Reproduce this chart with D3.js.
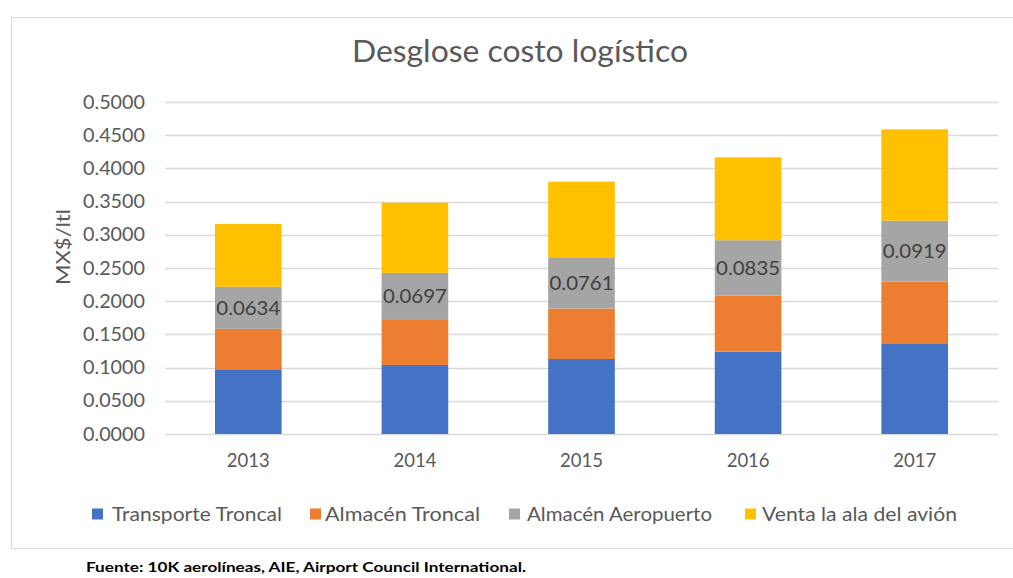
<!DOCTYPE html>
<html>
<head>
<meta charset="utf-8">
<script src="https://cdn.jsdelivr.net/npm/d3@7"></script>
<style>
  body { margin: 0; background: #fff; }
  text { font-family: Lato, "Open Sans", sans-serif; }
</style>
</head>
<body>
<div id="chart"></div>
<script>
const years = ["2013", "2014", "2015", "2016", "2017"];
const seriesNames = ["Transporte Troncal", "Almacén Troncal", "Almacén Aeropuerto", "Venta la ala del avión"];
const seriesColors = ["#4472C4", "#ED7D31", "#A5A5A5", "#FFC000"];
const transporteTroncal = [0.0964, 0.1040, 0.1130, 0.1240, 0.1366];
const almacenTroncal = [0.0620, 0.0690, 0.0760, 0.0843, 0.0928];
const almacenAeropuerto = [0.0634, 0.0697, 0.0761, 0.0835, 0.0919];
const ventaAla = [0.0946, 0.1057, 0.1149, 0.1249, 0.1375];
const yTicks = [0, 0.05, 0.1, 0.15, 0.2, 0.25, 0.3, 0.35, 0.4, 0.45, 0.5];

const width = 1013, height = 578;
const svg = d3.select("#chart").append("svg")
    .attr("width", width)
    .attr("height", height);

// marco del gráfico
svg.append("rect")
    .attr("x", 11.5).attr("y", 17.5)
    .attr("width", 1010).attr("height", 531)
    .attr("fill", "#fff")
    .attr("stroke", "#d9d9d9");

const plot = { left: 165, right: 998, top: 102, bottom: 434 };

const x = d3.scaleBand()
    .domain(years)
    .range([plot.left, plot.right])
    .paddingInner(0.6)
    .paddingOuter(0.3);

const y = d3.scaleLinear()
    .domain([0, 0.5])
    .range([plot.bottom, plot.top]);

// Título
svg.append("text")
    .attr("x", 520).attr("y", 62)
    .attr("text-anchor", "middle")
    .attr("font-size", 30)
    .attr("fill", "#595959")
    .attr("textLength", 336)
    .attr("lengthAdjust", "spacingAndGlyphs")
    .text("Desglose costo logístico");

// Rejilla
svg.append("g")
    .selectAll("line")
    .data(yTicks)
    .join("line")
    .attr("x1", plot.left).attr("x2", plot.right)
    .attr("y1", d => Math.round(y(d)) + 0.5)
    .attr("y2", d => Math.round(y(d)) + 0.5)
    .attr("stroke", "#d9d9d9")
    .attr("stroke-width", 1.3);

// Eje Y
const yAxis = svg.append("g")
    .attr("transform", `translate(${plot.left - 20},0)`)
    .call(d3.axisLeft(y).tickValues(yTicks).tickFormat(d3.format(".4f")).tickSize(0).tickPadding(0));
yAxis.select(".domain").remove();
yAxis.selectAll("text")
    .attr("font-size", 19)
    .attr("fill", "#595959")
    .attr("textLength", 62)
    .attr("lengthAdjust", "spacingAndGlyphs")
    .style("font-family", "Lato, 'Open Sans', sans-serif");

// Eje X
const xAxis = svg.append("g")
    .attr("transform", `translate(0,${plot.bottom + 20})`)
    .call(d3.axisBottom(x).tickSize(0).tickPadding(0));
xAxis.select(".domain").remove();
xAxis.selectAll("text")
    .attr("font-size", 18.5)
    .attr("fill", "#595959")
    .attr("dy", "0.71em")
    .style("font-family", "Lato, 'Open Sans', sans-serif");

// Título eje Y
svg.append("text")
    .attr("transform", "translate(70,247) rotate(-90)")
    .attr("text-anchor", "middle")
    .attr("font-size", 20)
    .attr("fill", "#595959")
    .attr("textLength", 76)
    .attr("lengthAdjust", "spacingAndGlyphs")
    .text("MX$/ltl");

// Barras apiladas
const rows = years.map((yr, i) => ({
    year: yr,
    s0: transporteTroncal[i],
    s1: almacenTroncal[i],
    s2: almacenAeropuerto[i],
    s3: ventaAla[i]
}));
const keys = ["s0", "s1", "s2", "s3"];
const stacked = d3.stack().keys(keys)(rows);

svg.append("g")
    .selectAll("g")
    .data(stacked)
    .join("g")
    .attr("fill", (d, i) => seriesColors[i])
    .selectAll("rect")
    .data(d => d)
    .join("rect")
    .attr("x", d => x(d.data.year))
    .attr("width", x.bandwidth())
    .attr("y", d => y(d[1]))
    .attr("height", d => y(d[0]) - y(d[1]));

// Etiquetas del almacén aeropuerto
svg.append("g")
    .selectAll("text")
    .data(stacked[2])
    .join("text")
    .attr("x", d => x(d.data.year) + x.bandwidth() / 2)
    .attr("y", d => (y(d[0]) + y(d[1])) / 2)
    .attr("dy", "0.35em")
    .attr("text-anchor", "middle")
    .attr("font-size", 20)
    .attr("fill", "#404040")
    .attr("textLength", 64)
    .attr("lengthAdjust", "spacingAndGlyphs")
    .text(d => d3.format(".4f")(d.data.s2));

// Leyenda
const legendX = [92, 310, 509, 745];
const legendTextX = [112, 325, 527, 762];
const legendW = [170, 155, 185, 195];
const legend = svg.append("g")
    .selectAll("g")
    .data(seriesNames)
    .join("g")
    .attr("transform", (d, i) => `translate(${legendX[i]},514)`);
legend.append("rect")
    .attr("x", 0).attr("y", -5.5)
    .attr("width", 11).attr("height", 11)
    .attr("fill", (d, i) => seriesColors[i]);
legend.append("text")
    .attr("x", (d, i) => legendTextX[i] - legendX[i])
    .attr("dy", "0.35em")
    .attr("font-size", 20)
    .attr("fill", "#595959")
    .attr("textLength", (d, i) => legendW[i])
    .attr("lengthAdjust", "spacingAndGlyphs")
    .text(d => d);

// Fuente
svg.append("text")
    .attr("x", 86).attr("y", 572)
    .attr("font-size", 13.5)
    .attr("font-weight", "bold")
    .attr("fill", "#000")
    .attr("textLength", 440)
    .attr("lengthAdjust", "spacingAndGlyphs")
    .text("Fuente: 10K aerolíneas, AIE, Airport Council International.");
</script>
</body>
</html>
